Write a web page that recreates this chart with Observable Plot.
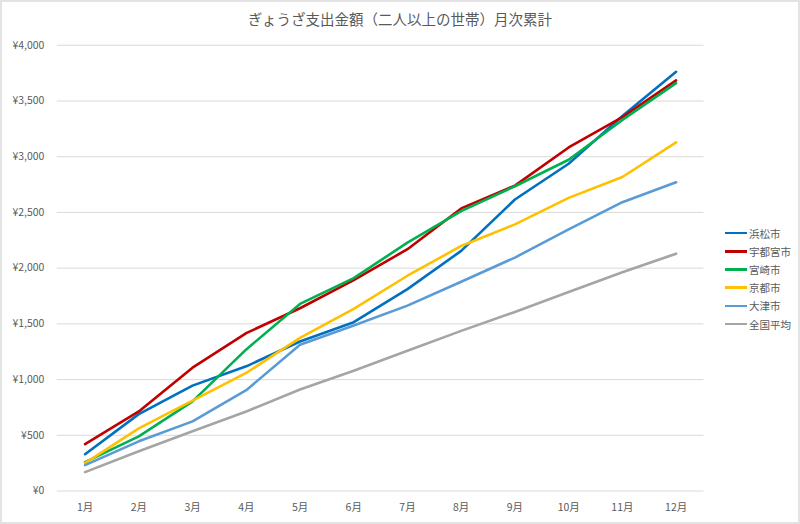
<!DOCTYPE html>
<html>
<head>
<meta charset="utf-8">
<script src="https://cdn.jsdelivr.net/npm/d3@7"></script>
<script src="https://cdn.jsdelivr.net/npm/@observablehq/plot@0.6"></script>
<style>
  html, body { margin: 0; padding: 0; background: #fff; }
  #wrap { position: relative; width: 800px; height: 524px; box-sizing: border-box; border: 2px solid #e3e3e3; overflow: hidden; font-family: "Noto Sans CJK JP", "Noto Sans", sans-serif; }
  #wrap svg { position: absolute; left: -2px; top: -2px; }
  #title { position: absolute; left: 0; width: 796px; top: 6px; text-align: center; font-size: 14.5px; color: #595959; }
  #legend { position: absolute; left: 723px; top: 222px; font-size: 10.5px; color: #595959; }
  .item { display: flex; align-items: center; height: 18.2px; }
  .sw { width: 22px; height: 2.5px; margin-right: 2px; }
</style>
</head>
<body>
<div id="wrap">
  <div id="title">ぎょうざ支出金額（二人以上の世帯）月次累計</div>
  <div id="legend"></div>
</div>
<script>
const months = ["1月","2月","3月","4月","5月","6月","7月","8月","9月","10月","11月","12月"];
const cities = ["浜松市","宇都宮市","宮崎市","京都市","大津市","全国平均"];
const colors = ["#0070C0","#C00000","#00B050","#FFC000","#5B9BD5","#A5A5A5"];
const hamamatsu   = [330, 690, 946, 1119, 1342, 1515, 1812, 2155, 2616, 2937, 3365, 3762];
const utsunomiya  = [420, 714, 1107, 1417, 1640, 1893, 2170, 2536, 2741, 3083, 3355, 3685];
const miyazaki    = [259, 491, 804, 1271, 1679, 1911, 2229, 2512, 2735, 2973, 3330, 3660];
const kyoto       = [250, 562, 812, 1060, 1375, 1634, 1932, 2199, 2393, 2631, 2818, 3128];
const otsu        = [232, 446, 625, 905, 1312, 1485, 1664, 1878, 2095, 2348, 2592, 2771];
const national    = [170, 357, 536, 714, 911, 1080, 1259, 1437, 1607, 1786, 1964, 2130];
const yTicks = [0, 500, 1000, 1500, 2000, 2500, 3000, 3500, 4000];

const series = [hamamatsu, utsunomiya, miyazaki, kyoto, otsu, national];
const data = [];
series.forEach((vals, i) => vals.forEach((v, j) => data.push({city: cities[i], month: months[j], value: v})));

const yen = d => "¥" + d3.format(",")(d);

const chart = Plot.plot({
  width: 800,
  height: 524,
  marginLeft: 57,
  marginRight: 93,
  marginTop: 45,
  marginBottom: 31,
  style: {fontFamily: '"Noto Sans CJK JP", "Noto Sans", sans-serif', fontSize: "10.5px", color: "#595959", background: "transparent"},
  x: {type: "point", domain: months, padding: 0.5, label: null},
  y: {domain: [0, 4000], label: null},
  color: {domain: cities, range: colors},
  marks: [
    Plot.gridY(yTicks, {stroke: "#d9d9d9", strokeOpacity: 1, strokeWidth: 1}),
    Plot.axisY({ticks: yTicks, tickSize: 0, tickPadding: 13, tickFormat: yen, fill: "#595959", label: null}),
    Plot.axisX({tickSize: 0, tickPadding: 13, fill: "#595959", label: null}),
    Plot.line(data, {x: "month", y: "value", z: "city", stroke: "city", strokeWidth: 2.6, strokeLinejoin: "round", strokeLinecap: "round"})
  ]
});
document.getElementById("wrap").appendChild(chart);

const legend = document.getElementById("legend");
cities.forEach((c, i) => {
  const it = document.createElement("div");
  it.className = "item";
  it.innerHTML = `<span class="sw" style="background:${colors[i]}"></span><span>${c}</span>`;
  legend.appendChild(it);
});
</script>
</body>
</html>
